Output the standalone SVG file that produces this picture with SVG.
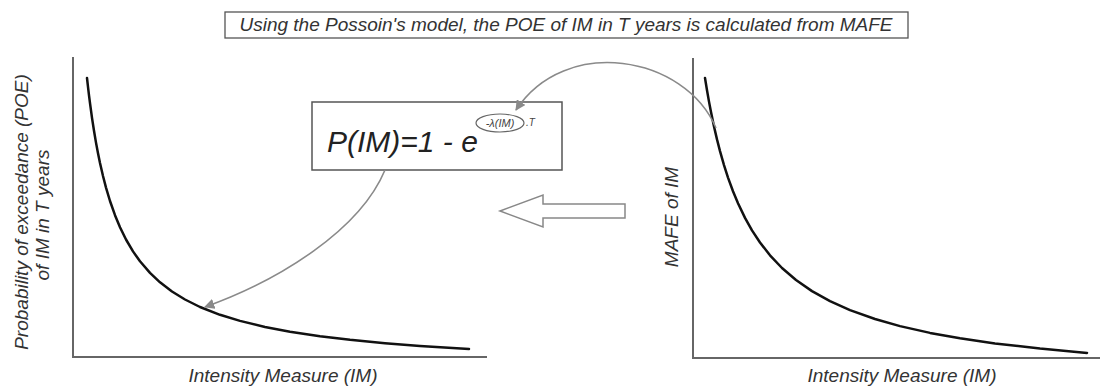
<svg xmlns="http://www.w3.org/2000/svg" width="1110" height="389" viewBox="0 0 1110 389">
<style>
.lbl{font-family:"Liberation Sans",Arial,sans-serif;font-style:italic;font-size:19px;fill:#333}
.axis{stroke:#666;stroke-width:2;fill:none}
.curve{stroke:#111;stroke-width:2.5;fill:none;stroke-linejoin:round;stroke-linecap:round}
.conn{stroke:#8a8a8a;stroke-width:1.6;fill:none}
</style>
<defs>
<marker id="ah" viewBox="0 0 10 10" refX="9" refY="5" markerWidth="6.5" markerHeight="6.5" orient="auto" markerUnits="strokeWidth">
<path d="M0,0 L10,5 L0,10 z" fill="#8a8a8a"/>
</marker>
</defs>
<rect width="1110" height="389" fill="#fff"/>
<g id="title">
<rect x="225" y="12" width="683" height="26" fill="#fff" stroke="#555" stroke-width="1.3"/>
<text class="lbl" x="566" y="31" text-anchor="middle">Using the Possoin's model, the POE of IM in T years is calculated from MAFE</text>
</g>
<g id="left-chart">
<path class="axis" d="M73,57 V357 H487"/>
<polyline class="curve" points="87,78 88,86.9 89,95.3 90,103.2 92,117.8 94,130.8 96,142.6 98,153.3 100,163 103,176 106,187.6 110,201 115,215.2 120,227.3 126,239.5 133,251.4 140,261.3 150,272.9 160,282.3 172,291.5 185,299.5 200,307 220,314.8 240,320.9 265,327 290,331.7 320,336.2 350,339.8 385,343.2 420,345.9 469,349"/>
<text class="lbl" x="283" y="382" text-anchor="middle">Intensity Measure (IM)</text>
<text class="lbl" transform="translate(28,212) rotate(-90)" text-anchor="middle">Probability of exceedance (POE)</text>
<text class="lbl" transform="translate(49,215) rotate(-90)" text-anchor="middle">of IM in T years</text>
</g>
<g id="right-chart">
<path class="axis" d="M693,58 V358 H1100"/>
<polyline class="curve" points="705,78 707,90.3 709,101.6 711,112.1 714,126.4 717,139.4 720,151.1 724,165.1 728,177.6 733,191.3 738,203.3 745,217.9 752,230.4 760,242.5 770,255.3 782,268 796,280 812,291.1 830,301.1 850,310.1 875,319 900,326.1 930,332.9 960,338.3 995,343.4 1040,348.6 1087,352.9"/>
<text class="lbl" x="902" y="382" text-anchor="middle">Intensity Measure (IM)</text>
<text class="lbl" transform="translate(678,217) rotate(-90)" text-anchor="middle">MAFE of IM</text>
</g>
<g id="formula">
<rect x="312" y="102" width="250" height="68" fill="#fff" stroke="#555" stroke-width="1.5"/>
<text x="327" y="152" font-family="Liberation Sans,Arial,sans-serif" font-style="italic" font-size="30" fill="#222">P(IM)=1 - e</text>
<ellipse cx="500" cy="123" rx="24" ry="9" fill="none" stroke="#666" stroke-width="1.2"/>
<text x="500" y="127" text-anchor="middle" font-family="Liberation Sans,Arial,sans-serif" font-style="italic" font-size="11" fill="#444">-λ(IM)</text>
<text x="526" y="126" font-family="Liberation Sans,Arial,sans-serif" font-style="italic" font-size="10" fill="#444">.T</text>
</g>
<g id="block-arrow">
<polygon points="500,211 543,195 543,204 625,204 625,218 543,218 543,227" fill="#fff" stroke="#888" stroke-width="1.5"/>
</g>
<g id="connectors">
<path class="conn" d="M716,128 C685,55 565,35 516,110" marker-end="url(#ah)"/>
<path class="conn" d="M385,170 C360,230 280,280 205,307" marker-end="url(#ah)"/>
</g>
</svg>
